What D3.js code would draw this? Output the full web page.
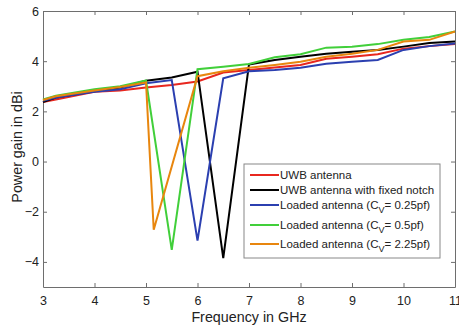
<!DOCTYPE html>
<html>
<head>
<meta charset="utf-8">
<script src="https://cdn.jsdelivr.net/npm/d3@7"></script>
<style>
  body { margin: 0; background: #fff; }
  svg text { font-family: "Liberation Sans", Arial, sans-serif; fill: #222; }
</style>
</head>
<body>
<div id="chart"></div>
<script>
// frequency (GHz) and gain (dBi) per curve
const uwbFreq = [3, 3.25, 4, 4.5, 5, 5.5, 6, 6.5, 7, 7.5, 8, 8.5, 9, 9.5, 10, 10.5, 11];
const uwbGain = [2.37, 2.47, 2.78, 2.83, 2.95, 3.05, 3.19, 3.55, 3.65, 3.75, 3.85, 4.1, 4.18, 4.28, 4.5, 4.6, 4.68];

const notchFreq = [3, 3.25, 4, 4.5, 5, 5.5, 6, 6.5, 7, 7.5, 8, 8.5, 9, 9.5, 10, 10.5, 11];
const notchGain = [2.37, 2.55, 2.8, 2.95, 3.22, 3.35, 3.58, -3.85, 3.87, 4.05, 4.18, 4.3, 4.38, 4.45, 4.58, 4.72, 4.78];

const c025Freq = [3, 3.25, 4, 4.5, 5, 5.5, 6, 6.5, 7, 7.5, 8, 8.5, 9, 9.5, 10, 10.5, 11];
const c025Gain = [2.42, 2.55, 2.78, 2.88, 3.12, 3.25, -3.15, 3.32, 3.6, 3.65, 3.74, 3.9, 3.98, 4.05, 4.45, 4.6, 4.7];

const c05Freq = [3, 3.25, 4, 4.5, 5, 5.5, 6, 6.5, 7, 7.5, 8, 8.5, 9, 9.5, 10, 10.5, 11];
const c05Gain = [2.47, 2.62, 2.88, 3.0, 3.23, -3.52, 3.68, 3.78, 3.89, 4.16, 4.28, 4.54, 4.58, 4.68, 4.85, 4.96, 5.18];

const c225Freq = [3, 3.25, 4, 4.5, 5, 5.15, 6, 6.5, 7, 7.5, 8, 8.5, 9, 9.5, 10, 10.5, 11];
const c225Gain = [2.45, 2.6, 2.83, 2.97, 3.15, -2.72, 3.4, 3.6, 3.74, 3.85, 3.98, 4.18, 4.3, 4.45, 4.78, 4.85, 5.18];

const seriesNames = ["UWB antenna", "UWB antenna with fixed notch", "Loaded antenna (C", "Loaded antenna (C", "Loaded antenna (C"];
const seriesSuffix = ["", "", "= 0.25pf)", "= 0.5pf)", "= 2.25pf)"];
const seriesColors = ["#e8271f", "#000000", "#2b3fb0", "#41cf3a", "#e8860e"];

const xTicks = [3, 4, 5, 6, 7, 8, 9, 10, 11];
const yTicks = [-4, -2, 0, 2, 4, 6];

const series = [
  {freq: uwbFreq, gain: uwbGain},
  {freq: notchFreq, gain: notchGain},
  {freq: c025Freq, gain: c025Gain},
  {freq: c05Freq, gain: c05Gain},
  {freq: c225Freq, gain: c225Gain}
];

const W = 459, H = 329;
const margin = {top: 11, right: 4, bottom: 42, left: 43};
const width = W - margin.left - margin.right;
const height = H - margin.top - margin.bottom;

const svg = d3.select("#chart").append("svg")
  .attr("width", W)
  .attr("height", H)
  .append("g")
  .attr("transform", "translate(" + margin.left + "," + margin.top + ")");

const x = d3.scaleLinear().domain([3, 11]).range([0, width]);
const y = d3.scaleLinear().domain([-5, 6]).range([height, 0]);

// axes with inward ticks, box style
const axisColor = "#6e6e6e";
function styleAxis(g) {
  g.selectAll(".domain").attr("stroke", axisColor);
  g.selectAll(".tick line").attr("stroke", axisColor);
  g.selectAll(".tick text").style("font-size", "12.5px").attr("fill", "#222");
}

svg.append("g")
  .attr("transform", "translate(0," + height + ")")
  .call(d3.axisBottom(x).tickValues(xTicks).tickSizeInner(-4).tickSizeOuter(0).tickPadding(9))
  .call(styleAxis);

svg.append("g")
  .call(d3.axisLeft(y).tickValues(yTicks).tickSizeInner(-4).tickSizeOuter(0).tickPadding(4))
  .call(styleAxis);

svg.append("g")
  .call(d3.axisTop(x).tickValues(xTicks).tickSizeInner(-4).tickSizeOuter(0).tickFormat(""))
  .call(styleAxis);

svg.append("g")
  .attr("transform", "translate(" + width + ",0)")
  .call(d3.axisRight(y).tickValues(yTicks).tickSizeInner(-4).tickSizeOuter(0).tickFormat(""))
  .call(styleAxis);

// curves
const line = d3.line()
  .x(d => x(d[0]))
  .y(d => y(d[1]));

series.forEach(function (s, i) {
  svg.append("path")
    .datum(s.freq.map((f, j) => [f, s.gain[j]]))
    .attr("fill", "none")
    .attr("stroke", seriesColors[i])
    .attr("stroke-width", 2)
    .attr("stroke-linejoin", "miter")
    .attr("d", line);
});

// axis titles
svg.append("text")
  .attr("x", width / 2)
  .attr("y", height + 35)
  .style("text-anchor", "middle")
  .style("font-size", "14.3px")
  .text("Frequency in GHz");

svg.append("text")
  .attr("transform", "translate(" + (-21) + "," + (147 - margin.top) + ")rotate(-90)")
  .style("text-anchor", "middle")
  .style("font-size", "14.3px")
  .text("Power gain in dBi");

// legend
const legend = svg.append("g")
  .attr("transform", "translate(" + (244 - margin.left) + "," + (164 - margin.top) + ")");

legend.append("rect")
  .attr("width", 196)
  .attr("height", 94)
  .attr("fill", "#fff")
  .attr("stroke", "#888")
  .attr("stroke-width", 1);

const rowY = [11, 26, 41, 61, 80];
seriesNames.forEach(function (name, i) {
  const row = legend.append("g").attr("transform", "translate(0," + rowY[i] + ")");
  row.append("line")
    .attr("x1", 6).attr("x2", 35)
    .attr("stroke", seriesColors[i])
    .attr("stroke-width", 2);
  const t = row.append("text")
    .attr("x", 36)
    .attr("y", 4)
    .style("font-size", "11.5px")
    .text(name);
  if (seriesSuffix[i]) {
    t.append("tspan")
      .attr("dy", 4)
      .style("font-size", "9px")
      .text("V");
    t.append("tspan")
      .attr("dy", -4)
      .text(seriesSuffix[i]);
  }
});
</script>
</body>
</html>
